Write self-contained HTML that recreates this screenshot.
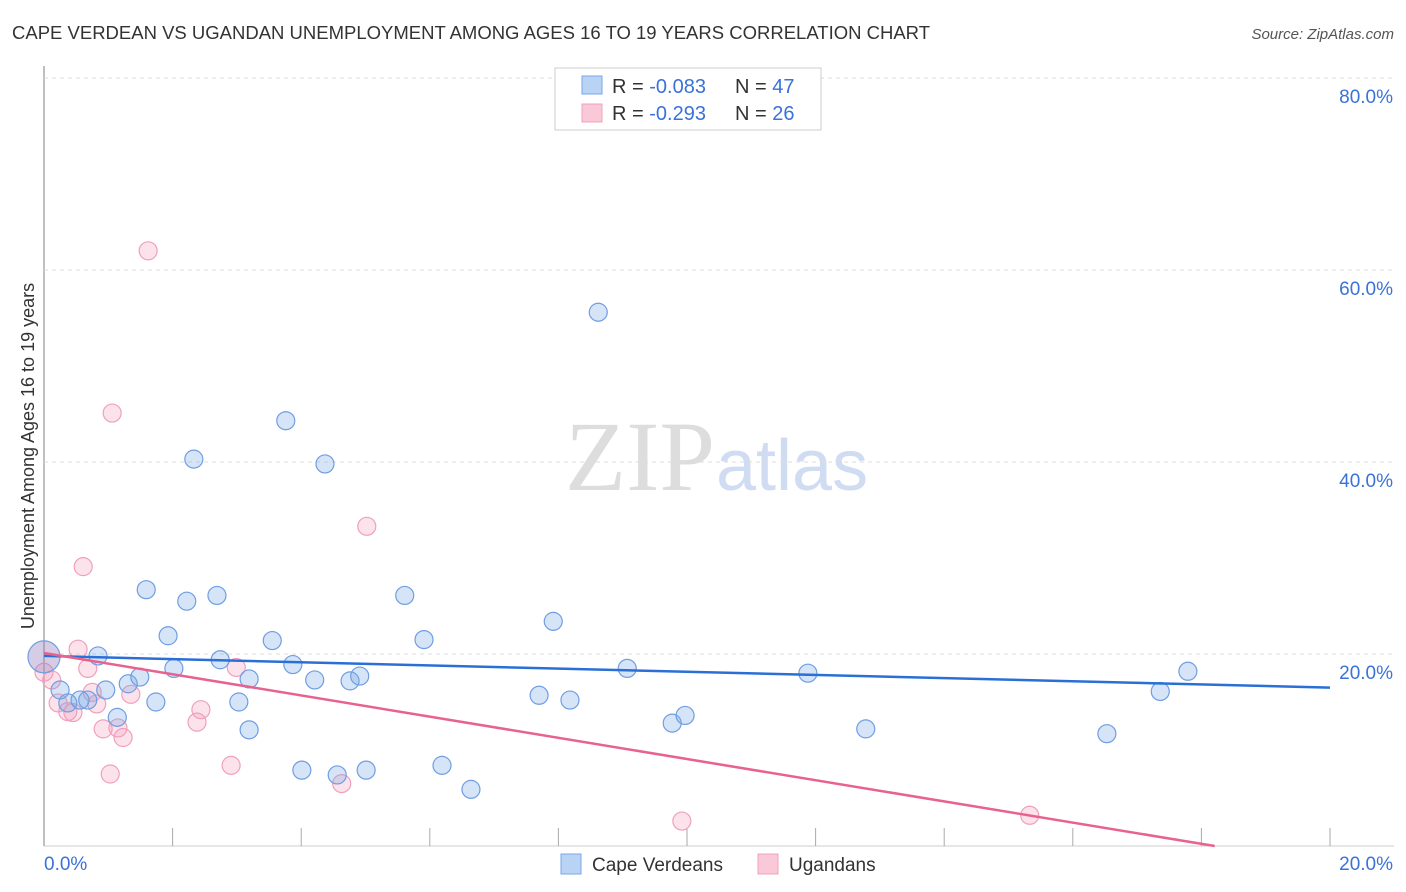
<!DOCTYPE html>
<html><head><meta charset="utf-8"><style>
body{margin:0;background:#fff;font-family:"Liberation Sans",sans-serif}
#wrap{position:relative;width:1406px;height:892px;overflow:hidden}
</style></head><body>
<div id="wrap">
<svg id="svg" width="1406" height="892" xmlns="http://www.w3.org/2000/svg" font-family="Liberation Sans, sans-serif">
<text x="12" y="39" font-size="18" fill="#333" textLength="918" lengthAdjust="spacingAndGlyphs">CAPE VERDEAN VS UGANDAN UNEMPLOYMENT AMONG AGES 16 TO 19 YEARS CORRELATION CHART</text>
<text x="1394" y="39" font-size="15" fill="#555" font-style="italic" text-anchor="end">Source: ZipAtlas.com</text>
<text x="715" y="490" font-size="100" fill="#ddd" text-anchor="end" font-family="Liberation Serif, serif">ZIP</text>
<text x="716" y="490" font-size="72" fill="#cfdcf2">atlas</text>
<text transform="translate(34,456) rotate(-90)" font-size="18" fill="#333" text-anchor="middle">Unemployment Among Ages 16 to 19 years</text>
<g id="grid"></g><g id="pts"></g><g id="lines"></g>
<g>
<rect x="555" y="68" width="266" height="62" fill="#fff" stroke="#ccc"/>
<rect x="582" y="76" width="20" height="18" fill="#b9d3f5" stroke="#7aa6e6"/>
<rect x="582" y="104" width="20" height="18" fill="#f9c9d8" stroke="#f0a0bc"/>
<text x="612" y="93" font-size="20" fill="#333">R = <tspan fill="#3a72d8">-0.083</tspan><tspan x="735">N = </tspan><tspan fill="#3a72d8">47</tspan></text>
<text x="612" y="120" font-size="20" fill="#333">R = <tspan fill="#3a72d8">-0.293</tspan><tspan x="735">N = </tspan><tspan fill="#3a72d8">26</tspan></text>
</g>
<g>
<rect x="561" y="854" width="20" height="20" fill="#b9d3f5" stroke="#7aa6e6"/>
<text x="592" y="871" font-size="19" fill="#333">Cape Verdeans</text>
<rect x="758" y="854" width="20" height="20" fill="#f9c9d8" stroke="#f0a0bc"/>
<text x="789" y="871" font-size="19" fill="#333">Ugandans</text>
</g>
</svg></div>
<script>
const blueX=[0,0.25,0.37,0.56,0.68,0.84,0.96,1.14,1.31,1.49,1.59,1.74,1.93,2.02,2.22,2.33,2.69,2.74,3.03,3.19,3.19,3.55,3.76,3.87,4.01,4.21,4.37,4.56,4.76,4.91,5.01,5.61,5.91,6.19,6.64,7.70,7.92,8.18,8.62,9.07,9.77,9.97,11.88,12.78,16.53,17.36,17.79];
const blueY=[19.7,16.25,14.9,15.2,15.2,19.8,16.25,13.4,16.9,17.6,26.7,15.0,21.9,18.5,25.5,40.3,26.1,19.4,15.0,17.4,12.1,21.4,44.3,18.9,7.9,17.3,39.8,7.4,17.2,17.7,7.9,26.1,21.5,8.4,5.9,15.7,23.4,15.2,55.6,18.5,12.8,13.6,18.0,12.2,11.7,16.1,18.2];
const pinkX=[0,0.12,0.22,0.37,0.45,0.53,0.61,0.68,0.75,0.82,0.92,1.03,1.06,1.15,1.23,1.35,1.62,2.38,2.44,2.91,2.99,4.63,5.02,9.92,15.33];
const pinkY=[18.1,17.3,14.9,14.0,13.9,20.5,29.1,18.5,16.0,14.8,12.2,7.5,45.1,12.3,11.3,15.8,62.0,12.9,14.2,8.4,18.6,6.5,33.3,2.6,3.2];
const yTicks=[20,40,60,80];
const xTicks=[0,2,4,6,8,10,12,14,16,18,20];
const blueTrend=[19.8,16.5];
const pinkTrend=[20.1,-1.104];
const NS='http://www.w3.org/2000/svg';
const X=v=>44+v*64.3, Y=v=>846-v*9.6;
function mk(t,a,p){const e=document.createElementNS(NS,t);for(const k in a)e.setAttribute(k,a[k]);p.appendChild(e);return e;}
const grid=document.getElementById('grid');
const ax=mk('line',{x1:44,y1:66,x2:44,y2:846,stroke:'#aaa','stroke-width':1.5},grid);


const bx=mk('line',{x1:44,y1:846,x2:1394,y2:846,stroke:'#ccc'},grid);


yTicks.forEach(t=>{
 const l=mk('line',{x1:44,x2:1394,y1:Y(t),y2:Y(t),stroke:'#ddd','stroke-dasharray':'4,4'},grid);
 
 
 const tx=mk('text',{x:1393,y:Y(t)+25,'font-size':19,fill:'#3a72d8','text-anchor':'end'},grid);
 tx.textContent=t.toFixed(1)+'%';
 
 
});
xTicks.forEach(t=>{
 const l=mk('line',{x1:X(t),x2:X(t),y1:828,y2:846,stroke:'#aaa'},grid);
 
 
});
[[0,'start'],[20,'end']].forEach(([t,a])=>{
 const tx=mk('text',{x:t==0?44:1393,y:870,'font-size':19,fill:'#3a72d8','text-anchor':a},grid);
 tx.textContent=t.toFixed(1)+'%';
 
 
});
const pts=document.getElementById('pts');
function draw(xs,ys,fill,stroke,name){
 xs.forEach((x,i)=>{
  const big=(x===0&&name==='blue-point'&&i===0);
  const c=mk('circle',{cx:X(x),cy:Y(ys[i]),r:big?16:9,fill:big?'rgba(150,130,190,0.4)':fill,stroke:stroke,'stroke-width':1.2},pts);
  
  
 });
}
draw(pinkX,pinkY,'rgba(244,160,188,0.3)','#f0a0bc','pink-point');
draw(blueX,blueY,'rgba(120,165,230,0.3)','#6f9ee2','blue-point');
const lines=document.getElementById('lines');
const bl=mk('line',{x1:X(0),y1:Y(blueTrend[0]),x2:X(20),y2:Y(blueTrend[1]),stroke:'#2a6fd6','stroke-width':2.5},lines);


const xe=Math.min(20,-pinkTrend[0]/pinkTrend[1]);
const pl=mk('line',{x1:X(0),y1:Y(pinkTrend[0]),x2:X(xe),y2:Y(pinkTrend[0]+pinkTrend[1]*xe),stroke:'#e8628f','stroke-width':2.5},lines);


</script>
</body></html>
